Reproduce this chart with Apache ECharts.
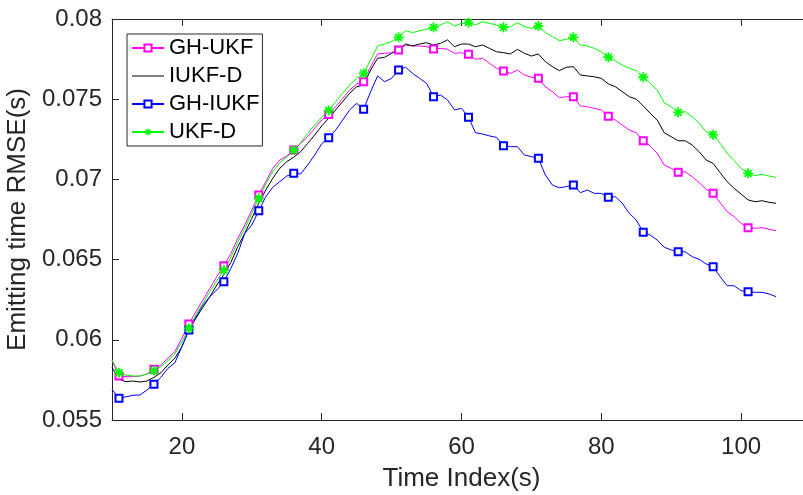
<!DOCTYPE html>
<html>
<head>
<meta charset="utf-8">
<title>Emitting time RMSE</title>
<script src="https://cdn.jsdelivr.net/npm/echarts@6/dist/echarts.min.js"></script>
<style>
  html, body { margin: 0; padding: 0; background: #fff; }
  #chart { width: 803px; height: 495px; }
</style>
</head>
<body>
<div id="chart"></div>
<script>
// time index starts at 10 s, one value per second
const startTime = 10
const xTicks = [20, 40, 60, 80, 100]
const yTicks = [0.055, 0.06, 0.065, 0.07, 0.075, 0.08]
const seriesNames = ['GH-UKF', 'IUKF-D', 'GH-IUKF', 'UKF-D']

const ghUkf = [
  0.0587, 0.05774, 0.0577, 0.0577, 0.05774, 0.05787, 0.05816, 0.05843, 0.05885, 0.05926,
  0.0601, 0.06099, 0.06175, 0.06248, 0.06321, 0.06394, 0.06462, 0.06537, 0.06633, 0.06716,
  0.06809, 0.06903, 0.06986, 0.07069, 0.07121, 0.07146, 0.07183, 0.07225, 0.07266, 0.07319,
  0.0737, 0.07405, 0.07453, 0.07505, 0.07557, 0.07595, 0.07609, 0.07703, 0.07782, 0.07786,
  0.0779, 0.07807, 0.07838, 0.07832, 0.07832, 0.07827, 0.07813, 0.07817, 0.07811, 0.07786,
  0.0779, 0.0778, 0.07749, 0.07755, 0.07724, 0.07693, 0.07676, 0.07661, 0.07682, 0.07651,
  0.07637, 0.0763, 0.07578, 0.07547, 0.07509, 0.07516, 0.07516, 0.07458, 0.07453, 0.07443,
  0.07433, 0.07393, 0.0737, 0.07339, 0.07308, 0.07291, 0.07241, 0.07208, 0.07163, 0.0709,
  0.07069, 0.07044, 0.07048, 0.07017, 0.0698, 0.06938, 0.06913, 0.06855, 0.06799, 0.06768,
  0.06726, 0.06699, 0.06695, 0.06699, 0.06689, 0.0668
]

const iukfD = [
  0.05829, 0.05754, 0.05739, 0.05743, 0.05737, 0.05743, 0.05766, 0.05795, 0.05843, 0.05885,
  0.05957, 0.06061, 0.06134, 0.06203, 0.06269, 0.06342, 0.06407, 0.06482, 0.06581, 0.06664,
  0.06757, 0.06851, 0.06934, 0.07007, 0.07069, 0.07111, 0.07138, 0.07173, 0.07225, 0.07277,
  0.07333, 0.07381, 0.07433, 0.07485, 0.07537, 0.07578, 0.07589, 0.07682, 0.07755, 0.07761,
  0.07786, 0.07807, 0.07844, 0.07832, 0.07844, 0.07852, 0.07838, 0.07848, 0.0787, 0.07827,
  0.07844, 0.07844, 0.07827, 0.07838, 0.07817, 0.07796, 0.0779, 0.07782, 0.07811, 0.07786,
  0.07769, 0.07782, 0.07734, 0.07703, 0.07678, 0.07699, 0.07703, 0.07651, 0.07645, 0.0764,
  0.0763, 0.07596, 0.07578, 0.07547, 0.07516, 0.075, 0.07458, 0.07412, 0.0737, 0.07291,
  0.07266, 0.07241, 0.07241, 0.07214, 0.07173, 0.07121, 0.071, 0.07042, 0.06986, 0.06944,
  0.06909, 0.06872, 0.06861, 0.06867, 0.06857, 0.06851
]

const ghIukf = [
  0.05691, 0.05635, 0.05645, 0.05654, 0.05656, 0.05687, 0.05723, 0.05766, 0.05822, 0.05857,
  0.05957, 0.06061, 0.06144, 0.06217, 0.06269, 0.06311, 0.06362, 0.06445, 0.0654, 0.06664,
  0.06716, 0.06805, 0.06892, 0.06951, 0.06986, 0.07021, 0.07038, 0.07034, 0.0709, 0.07152,
  0.07222, 0.0726, 0.07308, 0.0737, 0.07433, 0.07474, 0.07437, 0.07547, 0.07645, 0.07609,
  0.0763, 0.07682, 0.07699, 0.07661, 0.0763, 0.07599, 0.07516, 0.07526, 0.07495, 0.07433,
  0.07443, 0.07387, 0.07291, 0.07283, 0.07271, 0.07262, 0.0721, 0.07204, 0.07204, 0.07152,
  0.07142, 0.07132, 0.07027, 0.06965, 0.06948, 0.06955, 0.06965, 0.06917, 0.06934, 0.06913,
  0.06913, 0.06888, 0.06892, 0.06851, 0.06789, 0.06747, 0.0667, 0.06653, 0.06622, 0.06577,
  0.0656, 0.06549, 0.06549, 0.06518, 0.06502, 0.06473, 0.06456, 0.06394, 0.06337, 0.06337,
  0.06306, 0.063, 0.06296, 0.06296, 0.06286, 0.06269
]

const ukfD = [
  0.05874, 0.05795, 0.0578, 0.05774, 0.05774, 0.05787, 0.05808, 0.05833, 0.0587, 0.05912,
  0.05988, 0.06072, 0.06155, 0.06228, 0.063, 0.06369, 0.06435, 0.06513, 0.06612, 0.06695,
  0.06789, 0.06882, 0.06971, 0.07048, 0.07104, 0.07138, 0.07183, 0.07229, 0.07287, 0.07339,
  0.07387, 0.0743, 0.07485, 0.07537, 0.07589, 0.0763, 0.07661, 0.07744, 0.07832, 0.07844,
  0.07859, 0.07886, 0.07927, 0.07915, 0.07927, 0.07936, 0.07948, 0.07963, 0.07983, 0.07956,
  0.07973, 0.07977, 0.07963, 0.07983, 0.07973, 0.07963, 0.07948, 0.07952, 0.07977, 0.07952,
  0.07942, 0.07956, 0.07915, 0.0789, 0.07865, 0.07873, 0.07886, 0.07838, 0.07832, 0.07817,
  0.07796, 0.07762, 0.0774, 0.07713, 0.07693, 0.07678, 0.07637, 0.07599, 0.07557, 0.07478,
  0.07453, 0.07418, 0.07422, 0.07391, 0.0735, 0.07297, 0.07279, 0.07225, 0.07163, 0.07117,
  0.07069, 0.07038, 0.07023, 0.07032, 0.07021, 0.07013
]

const FONT = '"Liberation Sans", Arial, Helvetica, sans-serif'
const AXIS_COLOR = '#262626'
// matlab style '*' marker
const ASTERISK = 'path://M4.1 0L5.9 0L5.9 10L4.1 10Z M0 4.1L10 4.1L10 5.9L0 5.9Z' +
  'M0.9 2.2L2.2 0.9L9.1 7.8L7.8 9.1Z M7.8 0.9L9.1 2.2L2.2 9.1L0.9 7.8Z'
// legend icon for the marker-less line
const PLAIN_LINE = 'path://M0 0L32 0L32 1L0 1Z'

// marker on every 5th sample (t = 11, 16, ...), plain line elsewhere
const toPoints = (values, withMarkers) => values.map((v, i) => {
  const p = [startTime + i, v]
  if (!withMarkers || i % 5 !== 1) return { value: p, symbol: 'none' }
  return { value: p }
})

const makeSeries = (name, values, color, symbol, symbolSize, withMarkers) => ({
  name: name,
  type: 'line',
  data: toPoints(values, withMarkers),
  symbol: symbol,
  symbolSize: symbolSize,
  showAllSymbol: true,
  lineStyle: { color: color, width: 1 },
  itemStyle: { color: color, borderColor: color, borderWidth: symbol === 'emptyRect' ? 1 : 0 },
  emphasis: { disabled: true },
  z: 3
})

const chart = echarts.init(document.getElementById('chart'))

const option = {
  animation: false,
  backgroundColor: '#fff',
  textStyle: { fontFamily: FONT },
  grid: { left: 112, top: 19, right: -8, bottom: 75, outerBoundsMode: 'none', containLabel: false },
  legend: {
    orient: 'vertical',
    left: 127,
    top: 34,
    data: [
      { name: 'GH-UKF' },
      { name: 'IUKF-D', icon: PLAIN_LINE, itemStyle: { borderWidth: 0 } },
      { name: 'GH-IUKF' },
      { name: 'UKF-D' }
    ],
    backgroundColor: '#fff',
    borderColor: AXIS_COLOR,
    borderWidth: 1,
    borderRadius: 0,
    padding: [2, 3, 2, 4],
    itemWidth: 32,
    itemHeight: 9,
    itemGap: 4,
    textStyle: { fontFamily: FONT, fontSize: 22, color: '#000', lineHeight: 24 },
    selectedMode: false,
    z: 10
  },
  xAxis: [{
    type: 'value',
    min: 10,
    max: 110,
    name: 'Time Index(s)',
    nameLocation: 'middle',
    nameGap: 46,
    nameTextStyle: { fontFamily: FONT, fontSize: 26, color: AXIS_COLOR },
    axisLine: { show: true, lineStyle: { color: AXIS_COLOR, width: 1 } },
    axisTick: { show: true, inside: true, length: 7, customValues: xTicks, lineStyle: { color: AXIS_COLOR } },
    axisLabel: { customValues: xTicks, fontFamily: FONT, fontSize: 24, color: AXIS_COLOR, margin: 15 },
    splitLine: { show: false }
  }, {
    type: 'value',
    position: 'top',
    min: 10,
    max: 110,
    axisLine: { show: true, lineStyle: { color: AXIS_COLOR, width: 1 } },
    axisTick: { show: true, inside: true, length: 7, customValues: xTicks, lineStyle: { color: AXIS_COLOR } },
    axisLabel: { show: false },
    splitLine: { show: false }
  }],
  yAxis: {
    type: 'value',
    min: 0.055,
    max: 0.08,
    name: 'Emitting time RMSE(s)',
    nameLocation: 'middle',
    nameGap: 78,
    nameTextStyle: { fontFamily: FONT, fontSize: 26, color: AXIS_COLOR },
    axisLine: { show: true, lineStyle: { color: AXIS_COLOR, width: 1 } },
    axisTick: { show: true, inside: true, length: 7, customValues: yTicks, lineStyle: { color: AXIS_COLOR } },
    axisLabel: {
      customValues: yTicks,
      fontFamily: FONT,
      fontSize: 24,
      color: AXIS_COLOR,
      margin: 10,
      formatter: v => String(+v.toFixed(3))
    },
    splitLine: { show: false }
  },
  series: [
    makeSeries('GH-UKF', ghUkf, '#ff00ff', 'emptyRect', 7, true),
    makeSeries('IUKF-D', iukfD, '#000000', 'none', 0, false),
    makeSeries('GH-IUKF', ghIukf, '#0000ff', 'emptyRect', 7, true),
    makeSeries('UKF-D', ukfD, '#00ff00', ASTERISK, 10, true)
  ]
}

chart.setOption(option)

window.addEventListener('resize', () => chart.resize())
</script>
</body>
</html>
